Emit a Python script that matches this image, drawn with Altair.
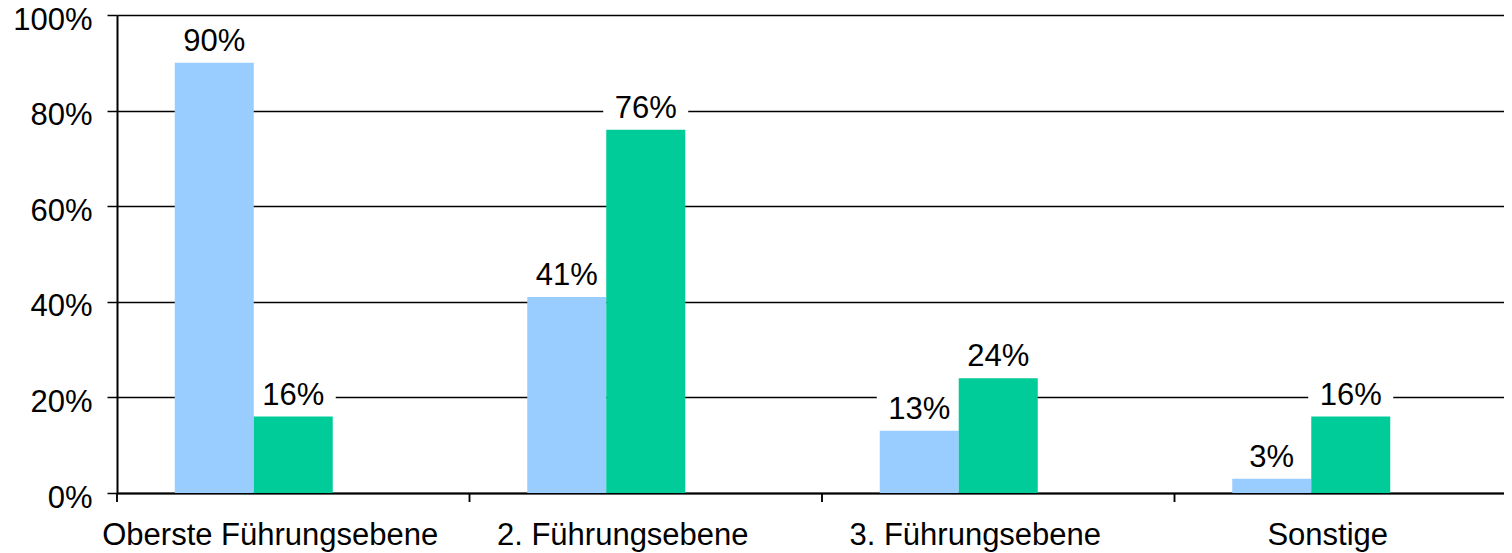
import altair as alt
import pandas as pd

categories = ["Oberste Führungsebene", "2. Führungsebene", "3. Führungsebene", "Sonstige"]
series = ["Reihe 1", "Reihe 2"]
values_1 = [90, 41, 13, 3]
values_2 = [16, 76, 24, 16]
colors = ["#99CCFF", "#00CC99"]
y_ticks = [0, 20, 40, 60, 80, 100]

rows = []
for c, a, b in zip(categories, values_1, values_2):
    rows.append({"category": c, "series": series[0], "value": a})
    rows.append({"category": c, "series": series[1], "value": b})
df = pd.DataFrame(rows)

FONT = "Liberation Sans"
W, H = 1387, 478
BAND_RANGE = 1410

x_scale = alt.Scale(paddingInner=0, paddingOuter=0, range=[0, BAND_RANGE])
x_enc = alt.X(
    "category:N",
    sort=categories,
    scale=x_scale,
    axis=alt.Axis(
        title=None, labelAngle=0, ticks=False, grid=False, labelLimit=0,
        domainColor="black", domainWidth=2, labelFontSize=31, labelFont=FONT,
        labelColor="black", labelPadding=27, labelOffset=-23, labelBaseline="top",
    ),
)
xoff_enc = alt.XOffset(
    "series:N",
    scale=alt.Scale(domain=series + ["_pad"], paddingInner=0, paddingOuter=0.731),
)
y_enc = alt.Y(
    "value:Q",
    scale=alt.Scale(domain=[0, 100], nice=False),
    axis=alt.Axis(
        title=None, values=y_ticks, labelExpr="datum.value + '%'",
        grid=True, gridColor="black", gridWidth=1.5,
        domainColor="black", domainWidth=2, tickColor="black", tickWidth=1.5,
        tickSize=10, labelFontSize=31, labelFont=FONT, labelColor="black",
        labelPadding=15, labelOffset=5,
    ),
)

base = alt.Chart(df)

boxes = base.mark_point(
    shape="M-1,-0.41L1,-0.41L1,0.41L-1,0.41Z", size=7225, filled=True,
    fill="white", opacity=1, strokeWidth=0, yOffset=-26,
).encode(x=x_enc, xOffset=xoff_enc, y=y_enc)

bars = base.mark_bar().encode(
    x=x_enc, xOffset=xoff_enc, y=y_enc,
    color=alt.Color("series:N", scale=alt.Scale(domain=series, range=colors), legend=None),
)

labels = base.transform_calculate(
    label="datum.value + '%'"
).mark_text(
    fontSize=31, font=FONT, color="black", baseline="alphabetic", dy=-12,
).encode(x=x_enc, xOffset=xoff_enc, y=y_enc, text="label:N")

ticks = base.mark_rule(color="black", strokeWidth=1.5).encode(
    x=alt.X("category:N", sort=categories, bandPosition=0, scale=x_scale),
    y=alt.value(H), y2=alt.value(H + 9),
)

chart = alt.layer(boxes, bars, labels, ticks).properties(
    width=W, height=H,
    autosize=alt.AutoSizeParams(type="none"),
    padding={"left": 109, "top": 7, "right": 0, "bottom": 60},
).configure_view(strokeWidth=0)

chart.save("out.html", embed_options={"renderer": "svg", "actions": False})
